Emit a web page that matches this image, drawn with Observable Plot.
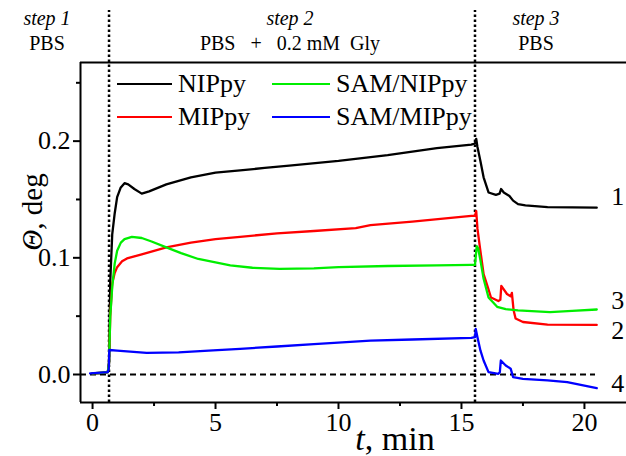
<!DOCTYPE html>
<html><head><meta charset="utf-8">
<script src="https://cdn.jsdelivr.net/npm/d3@7"></script>
<script src="https://cdn.jsdelivr.net/npm/@observablehq/plot@0.6"></script>
<style>
body{margin:0;background:#fff;}
#wrap{position:relative;width:626px;height:456px;font-family:"Liberation Serif","Times New Roman",serif;color:#000;}
.leg{position:absolute;display:flex;align-items:center;height:30px;font-size:26px;white-space:nowrap;}
.sw{height:2.5px;margin-right:6px;}
</style>
</head><body><div id="wrap"></div>
<script>
// ---- data ----
const seriesNames = ["NIPpy", "MIPpy", "SAM/NIPpy", "SAM/MIPpy"];
const seriesColors = ["#000000", "#ff0000", "#00ee00", "#0000ff"];
const curveNumbers = ["1", "2", "3", "4"];

const nipT = [0,0.3,0.62,0.67,0.72,0.8,0.9,1.0,1.14,1.3,1.45,1.7,2.0,2.3,3.0,4.0,5.0,6.0,7.0,8.0,10,12,14,15.4,15.55,15.6,15.65,15.77,15.9,16.1,16.4,16.55,16.61,16.72,16.95,17.1,17.3,17.6,18.5,20.5];
const nipV = [0.001,0.001,0.002,0.01,0.08,0.12,0.138,0.152,0.160,0.164,0.163,0.159,0.155,0.157,0.163,0.169,0.173,0.175,0.177,0.179,0.183,0.188,0.194,0.197,0.198,0.202,0.195,0.183,0.169,0.156,0.154,0.155,0.159,0.156,0.153,0.149,0.146,0.145,0.1435,0.143];

const mipT = [0,0.62,0.67,0.72,0.8,0.9,1.0,1.2,1.4,2.0,3.0,4.0,5.0,6.0,7.5,9.0,10.7,11.3,13,15.4,15.55,15.6,15.65,15.75,15.9,16.07,16.2,16.5,16.58,16.62,16.85,17.0,17.05,17.12,17.2,17.5,18.5,20.5];
const mipV = [0.001,0.002,0.01,0.05,0.078,0.087,0.092,0.097,0.0995,0.103,0.109,0.113,0.116,0.118,0.121,0.123,0.1255,0.128,0.131,0.136,0.136,0.140,0.125,0.109,0.086,0.075,0.066,0.063,0.064,0.076,0.069,0.067,0.070,0.055,0.048,0.045,0.0428,0.0425];

const samNipT = [0,0.62,0.67,0.72,0.8,0.9,1.0,1.15,1.3,1.6,2.0,2.4,3.0,3.6,4.3,5.0,5.6,6.5,7.6,9,10,12,14,15.4,15.55,15.62,15.68,15.77,15.9,16.1,16.45,16.8,17.3,18.6,19.5,20.5];
const samNipV = [0.001,0.002,0.01,0.05,0.075,0.095,0.106,0.113,0.116,0.118,0.117,0.114,0.109,0.104,0.099,0.096,0.0935,0.0915,0.0905,0.091,0.092,0.093,0.0935,0.094,0.094,0.110,0.108,0.098,0.082,0.066,0.058,0.056,0.055,0.0535,0.0545,0.0557];

const samMipT = [-0.1,0.62,0.66,0.68,1.0,2.2,3.5,4.9,6,7.5,9,11.3,13,15.4,15.55,15.58,15.65,15.77,15.9,16.1,16.5,16.56,16.6,16.8,17.0,17.1,17.5,18.5,19.3,20.5];
const samMipV = [0.001,0.002,0.005,0.021,0.0205,0.0186,0.019,0.0206,0.022,0.024,0.026,0.029,0.030,0.0314,0.032,0.039,0.032,0.0206,0.012,0.002,0.0006,0.002,0.012,0.0077,0.005,-0.0023,-0.0037,-0.005,-0.0066,-0.0117];

const stepTimes = [0.67, 15.55];
const xMajorTicks = [0, 5, 10, 15, 20];
const xMinorTicks = [2.5, 7.5, 12.5, 17.5];
const yMajorTicks = [0, 0.1, 0.2];
const yMinorTicks = [0.05, 0.15, 0.25];
const labelY = [0.152, 0.0375, 0.0635, -0.008];

// ---- build table ----
const allT = [nipT, mipT, samNipT, samMipT];
const allV = [nipV, mipV, samNipV, samMipV];
const rows = [];
seriesNames.forEach((s, i) => allT[i].forEach((t, j) => rows.push({series: s, t, v: allV[i][j]})));
const labels = curveNumbers.map((n, i) => ({n, y: labelY[i]}));

const xDom = [-0.49, 21.71], yDom = [-0.024, 0.2674];

const plot = Plot.plot({
  width: 626, height: 456,
  marginLeft: 80, marginRight: 0, marginTop: 62, marginBottom: 54,
  x: {domain: xDom},
  y: {domain: yDom},
  color: {domain: seriesNames, range: seriesColors},
  style: {fontFamily: '"Liberation Serif","Times New Roman",serif', fontSize: "26px", color: "#000", background: "#fff", overflow: "visible"},
  marks: [
    Plot.ruleY([0], {x1: xDom[0], x2: 20.45, stroke: "#000", strokeWidth: 2, strokeDasharray: "6,4"}),
    Plot.ruleX(stepTimes, {y1: yDom[0], y2: 0.312, stroke: "#000", strokeWidth: 2.5, strokeDasharray: "2.5,2.5"}),
    Plot.line(rows, {x: "t", y: "v", z: "series", stroke: "series", strokeWidth: 2.3, strokeLinejoin: "round"}),
    Plot.axisX({ticks: xMajorTicks, tickSize: 7, tickPadding: 3, strokeWidth: 2, tickFormat: d => String(d), label: null}),
    Plot.axisX({ticks: xMinorTicks, tickSize: 4, strokeWidth: 2, tickFormat: () => "", label: null}),
    Plot.axisY({ticks: yMajorTicks, tickSize: 7, tickPadding: 3, strokeWidth: 2, tickFormat: d3.format(".1f"), label: null}),
    Plot.axisY({ticks: yMinorTicks, tickSize: 4, strokeWidth: 2, tickFormat: () => "", label: null}),
    Plot.ruleY([yDom[0], yDom[1]], {stroke: "#000", strokeWidth: 2}),
    Plot.ruleX([xDom[0]], {stroke: "#000", strokeWidth: 2}),
    Plot.text(labels, {x: 21.35, y: "y", text: "n", fontSize: 26, textAnchor: "middle"})
  ]
});

const wrap = document.getElementById("wrap");
wrap.appendChild(plot);

const svg = d3.select(plot);
// axis titles
const xl = svg.append("text").attr("x", 395).attr("y", 450).attr("text-anchor", "middle")
  .attr("font-size", 34).attr("fill", "#000");
xl.append("tspan").attr("font-style", "italic").text("t");
xl.append("tspan").text(", min");
const yl = svg.append("text").attr("transform", "translate(42,212) rotate(-90)").attr("text-anchor", "middle")
  .attr("font-size", 29).attr("fill", "#000");
yl.append("tspan").attr("font-style", "italic").text("Θ");
yl.append("tspan").text(", deg");

// step headers
const headers = [
  {x: 47, a: "step 1", b: "PBS"},
  {x: 290, a: "step 2", b: "PBS\u00a0\u00a0 +\u00a0\u00a0 0.2 mM\u00a0 Gly"},
  {x: 536, a: "step 3", b: "PBS"}
];
headers.forEach(h => {
  svg.append("text").attr("x", h.x).attr("y", 25).attr("text-anchor", "middle").attr("font-size", 20)
    .attr("font-style", "italic").attr("fill", "#000").text(h.a);
  svg.append("text").attr("x", h.x).attr("y", 50).attr("text-anchor", "middle").attr("font-size", 20)
    .attr("fill", "#000").text(h.b);
});

// legend (HTML overlay)
const legPos = [[117, 84, 55], [117, 117, 55], [272, 84, 58], [272, 117, 58]];
seriesNames.forEach((s, i) => {
  const d = document.createElement("div");
  d.className = "leg";
  d.style.left = legPos[i][0] + "px";
  d.style.top = (legPos[i][1] - 15) + "px";
  d.innerHTML = `<span class="sw" style="width:${legPos[i][2]}px;background:${seriesColors[i]}"></span><span>${s}</span>`;
  wrap.appendChild(d);
});
</script>
</body></html>
